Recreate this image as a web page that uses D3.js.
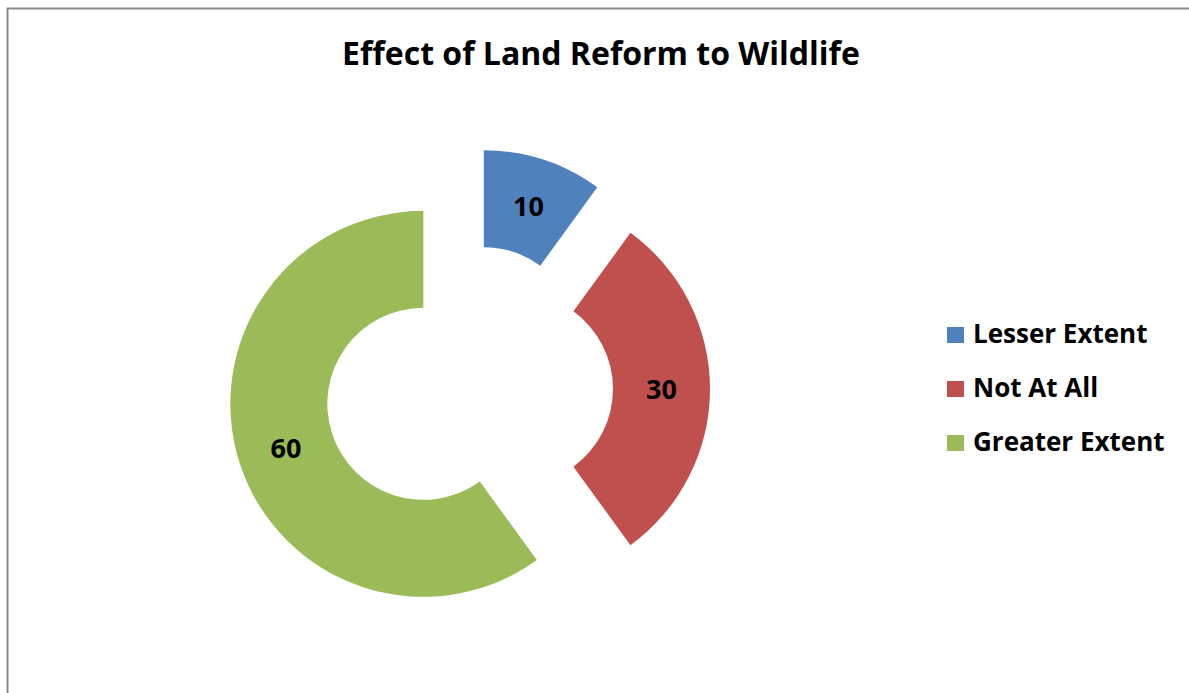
<!DOCTYPE html>
<html>
<head>
<meta charset="utf-8">
<script src="https://cdn.jsdelivr.net/npm/d3@7"></script>
<style>
  html, body { margin: 0; padding: 0; background: #fff; }
  svg { display: block; font-family: "Open Sans", "Noto Sans", sans-serif; }
</style>
</head>
<body>
<svg id="chart" width="1189" height="693"></svg>
<script>
// data
const categories = ["Lesser Extent", "Not At All", "Greater Extent"];
const values = [10, 30, 60];
const colors = ["#4F81BD", "#C0504D", "#9BBB59"];
const title = "Effect of Land Reform to Wildlife";

const svg = d3.select("#chart");

// chart area border (runs off the right / bottom edge)
svg.append("rect")
  .attr("x", 7.5).attr("y", 8.5)
  .attr("width", 1300).attr("height", 800)
  .attr("fill", "none")
  .attr("stroke", "#898989")
  .attr("stroke-width", 2);

svg.append("text")
  .attr("x", 601).attr("y", 65)
  .attr("text-anchor", "middle")
  .style("font-weight", "bold")
  .style("font-size", "32px")
  .text(title);

// doughnut
const cx = 469, cy = 389;
const outer = 193, inner = 96, explode = 48;

const pie = d3.pie().sort(null).value(d => d)(values);
const arc = d3.arc().innerRadius(inner).outerRadius(outer);

const g = svg.append("g").attr("transform", `translate(${cx},${cy})`);

const slices = g.selectAll(".slice")
  .data(pie)
  .enter().append("g")
  .attr("class", "slice")
  .attr("transform", d => {
    const a = (d.startAngle + d.endAngle) / 2;
    return `translate(${Math.sin(a) * explode},${-Math.cos(a) * explode})`;
  });

slices.append("path")
  .attr("d", arc)
  .attr("fill", (d, i) => colors[i]);

slices.append("text")
  .attr("transform", d => `translate(${arc.centroid(d)})`)
  .attr("dy", "0.36em")
  .attr("text-anchor", "middle")
  .style("font-weight", "bold")
  .style("font-size", "27px")
  .text(d => d.data);

// legend
const legend = svg.append("g").attr("transform", "translate(947,335)");
const rows = legend.selectAll(".row")
  .data(categories)
  .enter().append("g")
  .attr("transform", (d, i) => `translate(0,${i * 54})`);

rows.append("rect")
  .attr("x", 0).attr("y", -8)
  .attr("width", 17).attr("height", 16)
  .attr("fill", (d, i) => colors[i]);

rows.append("text")
  .attr("x", 26).attr("dy", "0.3em")
  .style("font-weight", "bold")
  .style("font-size", "26px")
  .text(d => d);
</script>
</body>
</html>
